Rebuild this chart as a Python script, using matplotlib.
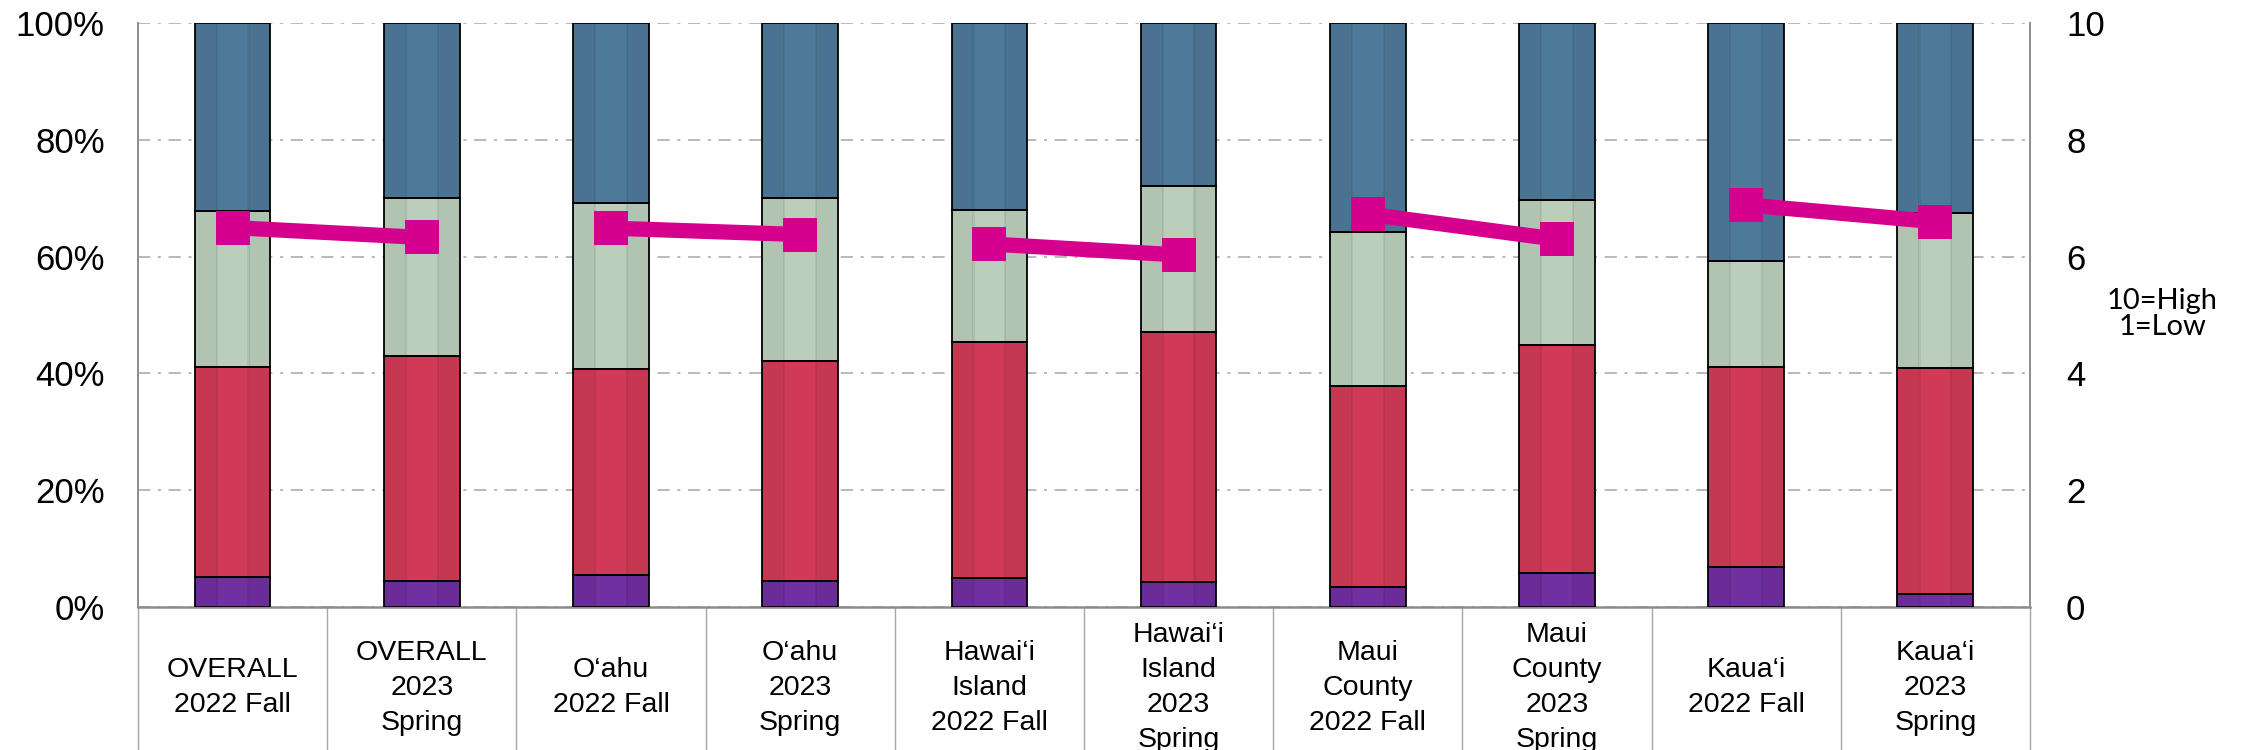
import matplotlib

matplotlib.use("Agg")
import matplotlib.pyplot as plt
import numpy as np

# categories on the x axis (region + survey wave)
categories = [
    "OVERALL\n2022 Fall",
    "OVERALL\n2023\nSpring",
    "O\u2018ahu\n2022 Fall",
    "O\u2018ahu\n2023\nSpring",
    "Hawai\u2018i\nIsland\n2022 Fall",
    "Hawai\u2018i\nIsland\n2023\nSpring",
    "Maui\nCounty\n2022 Fall",
    "Maui\nCounty\n2023\nSpring",
    "Kaua\u2018i\n2022 Fall",
    "Kaua\u2018i\n2023\nSpring",
]

# stacked shares in percent, bottom to top
share_purple = [5.2, 4.5, 5.4, 4.5, 5.0, 4.3, 3.4, 5.8, 6.8, 2.2]
share_red = [35.9, 38.5, 35.4, 37.6, 40.4, 42.8, 34.4, 39.0, 34.3, 38.8]
share_green = [26.8, 27.0, 28.4, 27.9, 22.6, 25.1, 26.5, 24.9, 18.1, 26.5]
share_blue = [32.1, 30.0, 30.8, 30.0, 32.0, 27.8, 35.7, 30.3, 40.8, 32.5]

# mean score on the 1-10 scale (right axis)
mean_score = [6.50, 6.33, 6.49, 6.38, 6.22, 6.03, 6.73, 6.30, 6.89, 6.60]

left_ticks = [0, 20, 40, 60, 80, 100]
right_ticks = [0, 2, 4, 6, 8, 10]

colors = ["#7030A0", "#D13A56", "#BBCEBB", "#4D7A99"]
line_color = "#D6008F"
grid_color = "#A6A6A6"
axis_color = "#8C8C8C"
bar_width = 0.4

fig = plt.figure(figsize=(22.41, 7.5), dpi=100)
ax = fig.add_axes([0.0616, 0.1907, 0.8442, 0.7783])

x = np.arange(len(categories))
bottom = np.zeros(len(x))
for values, color in zip([share_purple, share_red, share_green, share_blue], colors):
    ax.bar(x, values, width=bar_width, bottom=bottom, color=color,
           edgecolor="none", zorder=3)
    bottom += np.array(values)
totals = bottom.copy()

# excel-style bevel: darker outer strips and two thin seams on each column
side = bar_width * 0.29
ax.bar(x - bar_width / 2 + side / 2, totals, width=side, color="black",
       alpha=0.05, edgecolor="none", zorder=3.1)
ax.bar(x + bar_width / 2 - side / 2, totals, width=side, color="black",
       alpha=0.05, edgecolor="none", zorder=3.1)
for offset in (-0.21, 0.21):
    ax.bar(x + offset * bar_width, totals, width=0.012, color="black",
           alpha=0.07, edgecolor="none", zorder=3.2)

# segment outlines on top
bottom = np.zeros(len(x))
for values in [share_purple, share_red, share_green, share_blue]:
    ax.bar(x, values, width=bar_width, bottom=bottom, fill=False,
           edgecolor="black", linewidth=1.3, zorder=3.3)
    bottom += np.array(values)

ax.set_xlim(-0.5, len(x) - 0.5)
ax.set_ylim(0, 100)
ax.set_yticks(left_ticks)
ax.set_yticklabels([f"{v}%" for v in left_ticks], fontsize=25, family="Liberation Sans")
ax.tick_params(axis="y", length=0, pad=24)

ax.yaxis.grid(True, linestyle=(0, (8, 5, 2, 5)), color=grid_color, linewidth=1.1)
ax.set_axisbelow(True)

ax.set_xticks(x)
ax.set_xticklabels(categories, fontsize=20.5, family="Liberation Sans",
                   va="center", linespacing=1.45)
ax.tick_params(axis="x", which="major", length=0, pad=58)
ax.set_xticks(np.arange(-0.5, len(x), 1), minor=True)
ax.tick_params(axis="x", which="minor", length=105, width=1.0,
               color=grid_color, direction="out")

for s in ["top", "right"]:
    ax.spines[s].set_visible(False)
ax.spines["left"].set_color(axis_color)
ax.spines["left"].set_linewidth(1.4)
ax.spines["bottom"].set_color(axis_color)
ax.spines["bottom"].set_linewidth(1.8)

ax2 = ax.twinx()
ax2.set_ylim(0, 10)
ax2.set_yticks(right_ticks)
ax2.set_yticklabels([str(v) for v in right_ticks], fontsize=25, family="Liberation Sans")
ax2.tick_params(axis="y", length=0, pad=26)
for s in ["top", "left", "bottom"]:
    ax2.spines[s].set_visible(False)
ax2.spines["right"].set_color(axis_color)
ax2.spines["right"].set_linewidth(1.4)

# one segment per region: fall -> spring
for i in range(0, len(x), 2):
    ax2.plot(x[i:i + 2], mean_score[i:i + 2], color=line_color, linewidth=11,
             marker="s", markersize=25, markeredgewidth=0,
             solid_capstyle="butt", zorder=5)

fig.text(0.965, 0.581, "10=High\n1=Low", ha="center", va="center",
         fontsize=21, family="Lato", linespacing=1.0)

fig.savefig("out.png", dpi=100)
